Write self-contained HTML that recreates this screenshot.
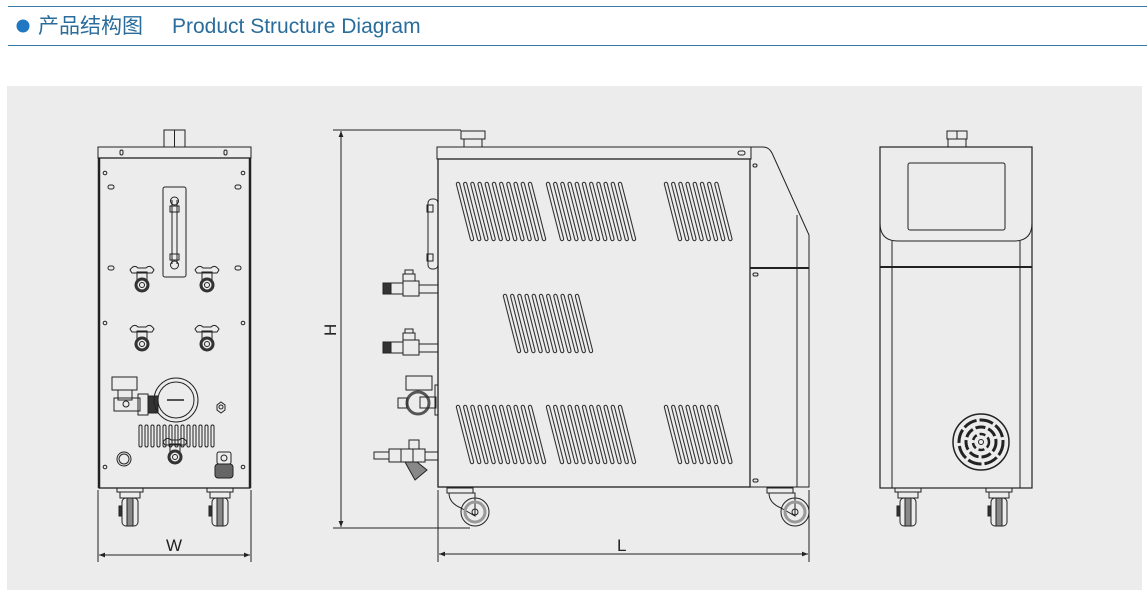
<!DOCTYPE html>
<html><head><meta charset="utf-8"><style>
html,body{margin:0;padding:0;background:#fff;width:1147px;height:596px;overflow:hidden}
svg{display:block}
</style></head><body>
<svg width="1147" height="596" viewBox="0 0 1147 596" xmlns="http://www.w3.org/2000/svg">
<defs>
<g id="s"><line x1="0" y1="0" x2="14" y2="55" stroke="#333" stroke-width="4.4" stroke-linecap="round"/><line x1="0" y1="0" x2="14" y2="55" stroke="#ececec" stroke-width="2.2" stroke-linecap="round"/></g>
<g id="g11"><use href="#s" x="0"/><use href="#s" x="7.2"/><use href="#s" x="14.4"/><use href="#s" x="21.6"/><use href="#s" x="28.8"/><use href="#s" x="36"/><use href="#s" x="43.2"/><use href="#s" x="50.4"/><use href="#s" x="57.6"/><use href="#s" x="64.8"/><use href="#s" x="72"/></g>
<g id="g8"><use href="#s" x="0"/><use href="#s" x="7.2"/><use href="#s" x="14.4"/><use href="#s" x="21.6"/><use href="#s" x="28.8"/><use href="#s" x="36"/><use href="#s" x="43.2"/><use href="#s" x="50.4"/></g>
<g id="wf" fill="none" stroke="#222" stroke-width="1"><rect x="-12" y="0" width="24" height="5"/><rect x="-10" y="5" width="20" height="10"/><rect x="-8" y="12" width="16" height="26" rx="3"/><rect x="-4" y="14" width="8" height="22" fill="#777"/></g>
<g id="valve" fill="none" stroke="#222" stroke-width="1"><path d="M-12 -8 q4 -6 8 -2 h8 q4 -4 8 2 l-2 3 h-20z"/><rect x="-5" y="-6" width="10" height="8"/><circle cx="0" cy="7" r="6" stroke-width="3" stroke="#333"/><circle cx="0" cy="7" r="2.5"/></g>
<g id="wh" fill="none" stroke="#222" stroke-width="1"><rect x="-13" y="0" width="26" height="4"/><rect x="-10" y="4" width="20" height="6"/><rect x="-8" y="10" width="16" height="28" rx="4"/><rect x="-3" y="10" width="6" height="28" fill="#888"/><rect x="-11" y="18" width="3" height="10" fill="#333"/></g>
<g id="sw" fill="none" stroke="#222" stroke-width="1"><path d="M-28 0 h18 v6"/><path d="M-28 0 l8 18 h8"/><circle cx="0" cy="25" r="14"/><circle cx="0" cy="25" r="11" stroke="#888" stroke-width="3"/><circle cx="0" cy="25" r="3.5"/><rect x="-6" y="0" width="12" height="22"/></g>
<marker id="ar" viewBox="0 0 10 10" refX="10" refY="5" markerWidth="14" markerHeight="6" orient="auto-start-reverse" markerUnits="userSpaceOnUse"><path d="M0 1 L10 5 L0 9z" fill="#222"/></marker>
</defs>

<!-- header -->
<line x1="8" y1="6.5" x2="1147" y2="6.5" stroke="#3a7aa8" stroke-width="1"/>
<line x1="8" y1="45.5" x2="1147" y2="45.5" stroke="#3a7aa8" stroke-width="1"/>
<circle cx="23" cy="26" r="6.5" fill="#1f78c1"/>
<text x="38" y="33" font-family="'Liberation Sans','Noto Sans CJK SC',sans-serif" font-size="21" fill="#2a6d9c">产品结构图</text>
<text x="172" y="33" font-family="'Liberation Sans',sans-serif" font-size="21" fill="#2a6d9c">Product Structure Diagram</text>

<rect x="7" y="86" width="1135" height="504" fill="#ececec"/>

<g fill="none" stroke="#222" stroke-width="1">
<!-- FRONT VIEW -->
<rect x="164" y="130" width="21" height="17"/><line x1="174.5" y1="130" x2="174.5" y2="147"/>
<rect x="98" y="147" width="153" height="11"/>
<rect x="120" y="150" width="3" height="5" rx="1.5"/><rect x="224" y="150" width="3" height="5" rx="1.5"/>
<rect x="99" y="158" width="151" height="330" stroke-width="1.3"/>
<line x1="99" y1="158" x2="99" y2="488" stroke-width="2.5"/><line x1="250" y1="158" x2="250" y2="488" stroke-width="2.5"/>
<circle cx="105" cy="173" r="1.8"/><circle cx="243" cy="173" r="1.8"/><circle cx="105" cy="323" r="1.8"/><circle cx="243" cy="323" r="1.8"/><circle cx="105" cy="467" r="1.8"/><circle cx="243" cy="467" r="1.8"/>
<rect x="108" y="185" width="6" height="4" rx="2"/><rect x="235" y="185" width="6" height="4" rx="2"/><rect x="108" y="266" width="6" height="4" rx="2"/><rect x="235" y="266" width="6" height="4" rx="2"/>
<rect x="163" y="187" width="23" height="90" rx="2"/>
<line x1="172" y1="200" x2="172" y2="264"/><line x1="177" y1="200" x2="177" y2="264"/>
<rect x="170" y="206" width="9" height="6"/><rect x="170" y="254" width="9" height="6"/>
<circle cx="174.5" cy="201" r="4"/><circle cx="174.5" cy="265" r="4"/>
<use href="#valve" x="142" y="278"/><use href="#valve" x="207" y="278"/>
<use href="#valve" x="142" y="337"/><use href="#valve" x="207" y="337"/>
<rect x="112" y="377" width="25" height="13"/><rect x="118" y="390" width="14" height="10"/>
<rect x="114" y="398" width="26" height="13"/><circle cx="126" cy="404" r="3"/>
<rect x="138" y="394" width="10" height="21"/><rect x="148" y="396" width="10" height="17" fill="#333"/>
<circle cx="176" cy="400" r="22"/><circle cx="176" cy="400" r="18"/>
<line x1="167" y1="400" x2="184" y2="400" stroke-width="1.5"/>
<path d="M217 405 l4 -3 l4 3 v5 l-4 3 l-4 -3z"/><circle cx="221" cy="407" r="2"/>
<g stroke-width="1">
<rect x="139" y="425" width="3" height="22" rx="1.5"/><rect x="145" y="425" width="3" height="22" rx="1.5"/><rect x="151" y="425" width="3" height="22" rx="1.5"/><rect x="157" y="425" width="3" height="22" rx="1.5"/><rect x="163" y="425" width="3" height="22" rx="1.5"/><rect x="169" y="425" width="3" height="22" rx="1.5"/><rect x="175" y="425" width="3" height="22" rx="1.5"/><rect x="181" y="425" width="3" height="22" rx="1.5"/><rect x="187" y="425" width="3" height="22" rx="1.5"/><rect x="193" y="425" width="3" height="22" rx="1.5"/><rect x="199" y="425" width="3" height="22" rx="1.5"/><rect x="205" y="425" width="3" height="22" rx="1.5"/><rect x="211" y="425" width="3" height="22" rx="1.5"/>
</g>
<use href="#valve" x="175" y="450"/>
<circle cx="124" cy="459" r="7"/><circle cx="124" cy="459" r="5"/>
<rect x="217" y="452" width="14" height="12" rx="2"/><circle cx="224" cy="458" r="3"/><rect x="215" y="464" width="18" height="14" rx="3" fill="#666"/>
<use href="#wh" x="130" y="488"/><use href="#wh" x="220" y="488"/>
<line x1="98" y1="490" x2="98" y2="562"/><line x1="251" y1="490" x2="251" y2="562"/>
<line x1="99" y1="555" x2="250" y2="555" marker-start="url(#ar)" marker-end="url(#ar)"/>

<!-- SIDE VIEW -->
<rect x="461" y="131" width="24" height="8"/><rect x="464" y="139" width="18" height="8"/>
<rect x="437" y="147" width="314" height="12"/>
<rect x="738" y="151" width="7" height="4" rx="2"/>
<rect x="438" y="159" width="312" height="328" stroke-width="1.3"/>
<path d="M751 147 h12 q6 0 9 6 l37 82 v252 h-59"/>
<line x1="797" y1="215" x2="797" y2="487"/>
<line x1="750" y1="268" x2="809" y2="268" stroke-width="2"/>
<rect x="753" y="164" width="4" height="3" rx="1.5"/><rect x="753" y="273" width="5" height="3" rx="1.5"/><rect x="753" y="479" width="5" height="3" rx="1.5"/>
<rect x="428" y="199" width="10" height="70" rx="4"/><rect x="427" y="205" width="6" height="7"/><rect x="427" y="254" width="6" height="7"/>
<!-- side fittings -->
<g>
<rect x="383" y="283" width="8" height="11" fill="#333"/><rect x="391" y="283" width="12" height="11"/><rect x="403" y="281" width="16" height="15"/><rect x="419" y="285" width="19" height="8"/><rect x="403" y="274" width="12" height="7"/><rect x="405" y="270" width="8" height="4"/>
<rect x="383" y="342" width="8" height="11" fill="#333"/><rect x="391" y="342" width="12" height="11"/><rect x="403" y="340" width="16" height="15"/><rect x="419" y="344" width="19" height="8"/><rect x="403" y="333" width="12" height="7"/><rect x="405" y="329" width="8" height="4"/>
<rect x="406" y="376" width="26" height="14"/><circle cx="418" cy="403" r="11" stroke="#555" stroke-width="3"/><rect x="398" y="398" width="9" height="10"/><rect x="420" y="397" width="16" height="11"/><rect x="435" y="385" width="3" height="30"/>
<rect x="374" y="452" width="15" height="7"/><rect x="389" y="449" width="12" height="13"/><rect x="401" y="449" width="12" height="13"/><rect x="413" y="449" width="12" height="13"/><rect x="425" y="452" width="13" height="8"/><rect x="409" y="440" width="10" height="9"/><path d="M405 462 l10 18 l12 -10 l-10 -8z" fill="#888"/>
</g>
<!-- side wheels -->
<g><path d="M447 488 h26 v5 h-26z"/><path d="M449 493 q0 10 12 15 l14 8 v-23z"/><circle cx="475" cy="512" r="14"/><circle cx="475" cy="512" r="10" stroke="#999" stroke-width="3"/><circle cx="475" cy="512" r="3"/></g>
<g><path d="M767 488 h26 v5 h-26z"/><path d="M769 493 q0 10 12 15 l14 8 v-23z"/><circle cx="795" cy="512" r="14"/><circle cx="795" cy="512" r="10" stroke="#999" stroke-width="3"/><circle cx="795" cy="512" r="3"/></g>
<!-- H dim -->
<line x1="333" y1="130" x2="461" y2="130"/><line x1="333" y1="528" x2="470" y2="528"/>
<line x1="341" y1="131" x2="341" y2="527" marker-start="url(#ar)" marker-end="url(#ar)"/>
<!-- L dim -->
<line x1="438" y1="490" x2="438" y2="562"/><line x1="809" y1="490" x2="809" y2="562"/>
<line x1="439" y1="554" x2="808" y2="554" marker-start="url(#ar)" marker-end="url(#ar)"/>

<!-- RIGHT VIEW -->
<rect x="947" y="131" width="20" height="8"/><line x1="957" y1="131" x2="957" y2="139"/><rect x="948" y="139" width="18" height="8"/>
<rect x="880" y="147" width="152" height="341" stroke-width="1.2"/>
<path d="M880 150 v73 q0 18 18 18 h116 q18 0 18 -18"/>
<rect x="908" y="163" width="97" height="67" rx="2"/>
<line x1="892" y1="241" x2="892" y2="488"/><line x1="1020" y1="241" x2="1020" y2="488"/>
<line x1="880" y1="267" x2="1032" y2="267" stroke-width="2"/>
<circle cx="981" cy="442" r="28" stroke-width="1.5"/>
<circle cx="981" cy="442" r="22" stroke-width="3" stroke-dasharray="14 3"/>
<circle cx="981" cy="442" r="15" stroke-width="3" stroke-dasharray="10 3"/>
<circle cx="981" cy="442" r="8" stroke-width="2.5" stroke-dasharray="6 3"/>
<circle cx="981" cy="442" r="2.5"/>
<use href="#wh" x="908" y="488"/><use href="#wh" x="999" y="488"/>
</g>
<!-- slots -->
<use href="#g11" x="458" y="184"/><use href="#g11" x="548" y="184"/><use href="#g8" x="666" y="184"/>
<use href="#g11" x="505" y="296"/>
<use href="#g11" x="458" y="407"/><use href="#g11" x="548" y="407"/><use href="#g8" x="666" y="407"/>

<g font-family="'Liberation Sans',sans-serif" font-size="17" fill="#222">
<text x="166" y="551">W</text>
<text x="617" y="551">L</text>
<text x="0" y="0" transform="translate(336,336) rotate(-90)">H</text>
</g>
</svg>
</body></html>
